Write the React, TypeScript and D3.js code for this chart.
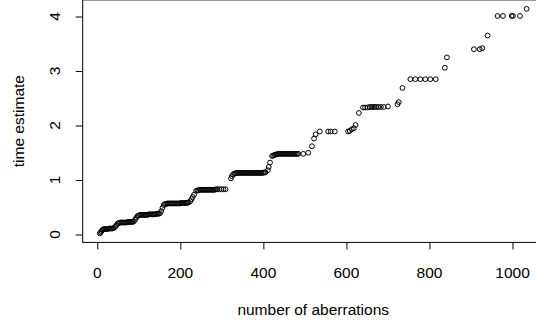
import { useEffect, useRef } from 'react';
import * as d3 from 'd3';

// [number of aberrations, time estimate], grouped by step
const step0: [number, number][] = [
  [6, 0.02], [8, 0.04], [10, 0.06], [12, 0.08], [14, 0.09],
  [16, 0.10], [19, 0.10], [22, 0.10], [25, 0.10], [28, 0.11], [31, 0.11], [34, 0.11], [37, 0.11], [40, 0.12],
  [43, 0.14], [46, 0.17], [49, 0.20],
];

const step1: [number, number][] = [
  [52, 0.21], [55, 0.22], [58, 0.22], [61, 0.22], [64, 0.22], [67, 0.22], [70, 0.22],
  [73, 0.23], [76, 0.23], [79, 0.23], [82, 0.23], [85, 0.23], [88, 0.24],
  [91, 0.27], [94, 0.31], [97, 0.34],
];

const step2: [number, number][] = [
  [100, 0.35], [103, 0.36], [106, 0.36], [109, 0.36], [112, 0.36], [115, 0.36], [118, 0.36], [121, 0.36],
  [124, 0.37], [127, 0.37], [130, 0.37], [133, 0.37], [136, 0.37], [139, 0.37], [142, 0.38], [145, 0.38],
  [148, 0.38], [151, 0.39],
  [154, 0.43], [157, 0.49], [160, 0.54],
];

const step3: [number, number][] = [
  [163, 0.56], [166, 0.56], [169, 0.57], [172, 0.57], [175, 0.57], [178, 0.57], [181, 0.57], [184, 0.57],
  [187, 0.57], [190, 0.57], [193, 0.57], [196, 0.57], [199, 0.57], [202, 0.58], [205, 0.58], [208, 0.58],
  [211, 0.58], [214, 0.58], [217, 0.58], [220, 0.59],
  [224, 0.61], [227, 0.65], [230, 0.69], [233, 0.73],
];

const step4: [number, number][] = [
  [238, 0.80], [241, 0.81], [244, 0.81], [247, 0.82], [250, 0.82], [253, 0.82], [256, 0.82], [259, 0.82],
  [262, 0.82], [265, 0.82], [268, 0.82], [271, 0.82], [274, 0.82], [277, 0.82], [280, 0.82], [283, 0.82],
  [286, 0.83], [289, 0.83], [294, 0.83], [299, 0.83], [304, 0.83], [309, 0.83],
  [322, 1.03], [324, 1.07], [327, 1.10],
];

const step5: [number, number][] = [
  [330, 1.12], [333, 1.12], [336, 1.13], [339, 1.13], [342, 1.13], [345, 1.13], [348, 1.13], [351, 1.13],
  [354, 1.13], [357, 1.13], [360, 1.13], [363, 1.13], [366, 1.13], [369, 1.13], [372, 1.13], [375, 1.13],
  [378, 1.13], [381, 1.13], [384, 1.13], [387, 1.13], [390, 1.13], [393, 1.13], [396, 1.13], [399, 1.13],
  [402, 1.14], [405, 1.14],
  [411, 1.18], [413, 1.24], [416, 1.32],
];

const step6: [number, number][] = [
  [421, 1.44], [424, 1.45], [427, 1.46], [430, 1.47], [433, 1.47], [436, 1.48], [439, 1.48], [442, 1.48],
  [445, 1.48], [448, 1.48], [451, 1.48], [454, 1.48], [457, 1.48], [460, 1.48], [463, 1.48], [466, 1.48],
  [469, 1.48], [472, 1.48], [475, 1.48], [478, 1.48], [481, 1.48], [484, 1.48], [496, 1.48], [508, 1.50],
  [517, 1.62], [522, 1.76], [526, 1.84], [536, 1.89],
];

const step7: [number, number][] = [
  [556, 1.89], [562, 1.89], [572, 1.89],
  [604, 1.89], [608, 1.90], [613, 1.93], [618, 1.95], [622, 2.01], [630, 2.23],
];

const step8: [number, number][] = [
  [640, 2.33], [645, 2.33], [651, 2.33], [656, 2.34], [660, 2.34], [664, 2.34], [668, 2.34], [672, 2.34],
  [677, 2.34], [683, 2.34], [690, 2.34], [700, 2.35],
  [723, 2.39], [726, 2.43], [735, 2.69],
];

const upperSteps: [number, number][] = [
  [754, 2.85], [766, 2.85], [778, 2.85], [790, 2.85], [802, 2.85], [815, 2.85],
  [837, 3.06], [842, 3.25],
  [907, 3.40], [921, 3.40], [927, 3.42], [940, 3.65],
  [964, 4.01], [977, 4.01], [998, 4.01], [1001, 4.01], [1018, 4.01], [1034, 4.14],
];

const xTicks = [0, 200, 400, 600, 800, 1000];
const yTicks = [0, 1, 2, 3, 4];

const xTitle = 'number of aberrations';
const yTitle = 'time estimate';

const width = 536;
const height = 322;
const font = '"Liberation Sans", Arial, Helvetica, sans-serif';

// R-style 4% padding around the data range
function padded(values: number[]): [number, number] {
  const [lo, hi] = d3.extent(values) as [number, number];
  const pad = (hi - lo) * 0.04;
  return [lo - pad, hi + pad];
}

function ScatterPlot() {
  const svgRef = useRef<SVGSVGElement>(null);

  useEffect(() => {
    if (!svgRef.current) return;
    const svg = d3.select(svgRef.current);
    svg.selectAll('*').remove();

    const points = [...step0, ...step1, ...step2, ...step3, ...step4, ...step5, ...step6, ...step7, ...step8, ...upperSteps];

    const plot = { left: 82.7, right: 543.7, top: -0.1, bottom: 242.4 };

    const x = d3.scaleLinear().domain(padded(points.map(p => p[0]))).range([plot.left, plot.right]);
    const y = d3.scaleLinear().domain(padded(points.map(p => p[1]))).range([plot.bottom, plot.top]);

    // points
    svg.append('g')
      .selectAll('circle')
      .data(points)
      .join('circle')
      .attr('cx', d => x(d[0]))
      .attr('cy', d => y(d[1]))
      .attr('r', 2.4)
      .attr('fill', 'none')
      .attr('stroke', '#000')
      .attr('stroke-width', 1);

    // box
    svg.append('rect')
      .attr('x', plot.left)
      .attr('y', plot.top)
      .attr('width', plot.right - plot.left)
      .attr('height', plot.bottom - plot.top)
      .attr('fill', 'none')
      .attr('stroke', '#000')
      .attr('stroke-width', 1);

    // x-axis
    const gx = svg.append('g')
      .attr('transform', `translate(0,${plot.bottom})`)
      .call(d3.axisBottom(x).tickValues(xTicks).tickSizeInner(7).tickSizeOuter(0).tickFormat(() => ''));
    gx.select('.domain').remove();
    gx.selectAll('line').attr('stroke', '#000');

    svg.append('g')
      .selectAll('text')
      .data(xTicks)
      .join('text')
      .attr('x', d => x(d))
      .attr('y', 278.3)
      .attr('text-anchor', 'middle')
      .style('font-family', font)
      .style('font-size', '15.5px')
      .text(d => String(d));

    // y-axis
    const gy = svg.append('g')
      .attr('transform', `translate(${plot.left},0)`)
      .call(d3.axisLeft(y).tickValues(yTicks).tickSizeInner(7).tickSizeOuter(0).tickFormat(() => ''));
    gy.select('.domain').remove();
    gy.selectAll('line').attr('stroke', '#000');

    svg.append('g')
      .selectAll('text')
      .data(yTicks)
      .join('text')
      .attr('transform', d => `translate(60,${y(d)}) rotate(-90)`)
      .attr('text-anchor', 'middle')
      .style('font-family', font)
      .style('font-size', '15.5px')
      .text(d => String(d));

    // titles
    svg.append('text')
      .attr('x', (plot.left + plot.right) / 2)
      .attr('y', 315)
      .attr('text-anchor', 'middle')
      .style('font-family', font)
      .style('font-size', '15.5px')
      .text(xTitle);

    svg.append('text')
      .attr('transform', `translate(24,${(plot.top + plot.bottom) / 2}) rotate(-90)`)
      .attr('text-anchor', 'middle')
      .style('font-family', font)
      .style('font-size', '15.5px')
      .text(yTitle);
  }, []);

  return (
    <svg
      ref={svgRef}
      width={width}
      height={height}
      style={{ position: 'absolute', left: 0, top: 0, background: '#fff' }}
    />
  );
}

export default function App() {
  return <ScatterPlot />;
}
